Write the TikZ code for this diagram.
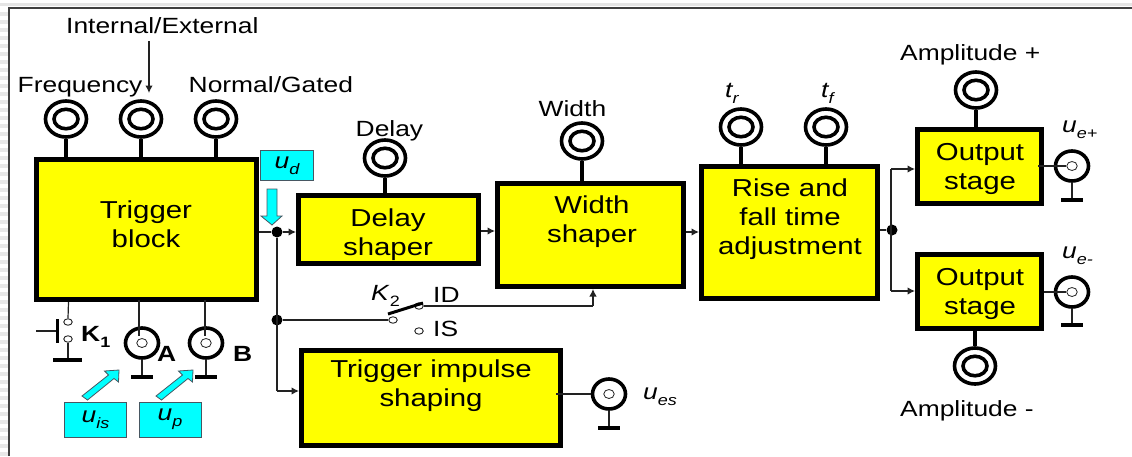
\documentclass[tikz,border=0pt]{standalone}
\usepackage{fontspec}
\setmainfont[FakeStretch=1.2]{Liberation Sans}
\usetikzlibrary{arrows.meta,shapes.geometric}
\definecolor{blockyellow}{HTML}{FFFF00}
\definecolor{signalcyan}{HTML}{00FFFF}
\definecolor{thinline}{HTML}{222222}
\tikzset{
  block/.style={draw=black,fill=blockyellow,line width=5pt,rectangle,inner sep=0pt},
  blocktext/.style={font=\fontsize{24.5}{29}\selectfont,align=center,inner sep=0pt},
  lab/.style={font=\fontsize{22}{26}\selectfont,inner sep=0pt,anchor=base west},
  knobouter/.style={draw=black,fill=white,line width=3.6pt,ellipse,inner sep=0pt,minimum width=41pt,minimum height=36pt},
  knobinner/.style={draw=black,fill=white,line width=3.6pt,ellipse,inner sep=0pt,minimum width=24pt,minimum height=19.5pt},
  stem/.style={draw=black,line width=3.6pt},
  coaxouter/.style={draw=black,fill=white,line width=3.6pt,ellipse,inner sep=0pt,minimum width=33pt,minimum height=30pt},
  coaxinner/.style={draw=thinline,fill=white,line width=.8pt,ellipse,inner sep=0pt,minimum width=10.5pt,minimum height=9pt},
  conn/.style={draw=thinline,line width=1.2pt},
  arr/.style={conn,-{Latex[length=7.5pt,width=7.5pt]}},
  gndbar/.style={draw=black,line width=4.6pt},
  jdot/.style={circle,fill=black,inner sep=0pt,minimum size=11pt},
  swpin/.style={draw=thinline,fill=white,line width=.9pt,ellipse,inner sep=0pt,minimum width=8.5pt,minimum height=6.5pt},
  sigbox/.style={draw=black!70!cyan,fill=signalcyan,line width=1pt,rectangle,inner sep=0pt,font=\fontsize{22}{26}\selectfont},
  sigarrow/.style={draw=black!70!cyan,fill=signalcyan,line width=.8pt,line join=miter}
}
\newcommand{\knobat}[3]{\node[knobouter] (#1) at (#2,#3) {};\node[knobinner] (#1i) at (#1) {};}
\newcommand{\coaxat}[3]{\node[coaxouter] (#1) at (#2,#3) {};\node[coaxinner] (#1i) at (#1) {};}
\newcommand{\sbs}[1]{\raisebox{-.28em}{\fontsize{15}{17}\selectfont #1}}
\begin{document}
\begin{tikzpicture}[x=1pt,y=-1pt]
\useasboundingbox (0,0) rectangle (1132,456);
% window edge
\fill[black!10] (0,3) rectangle (1132,6);
\foreach \yy in {12,20,...,452} {\fill[black!9] (0,\yy) rectangle (8,\yy+4);}
\draw[black!75,line width=1.2pt] (9,456) -- (9,8) -- (1132,8);
% blocks
\node[block,minimum width=220pt,minimum height=140pt] (trig) at (146.5,229.5) {};
\node[block,minimum width=180pt,minimum height=68pt] (delay) at (388.5,229.5) {};
\node[block,minimum width=186pt,minimum height=103pt] (width) at (590.5,235) {};
\node[block,minimum width=176pt,minimum height=132pt] (rise) at (789.5,232.5) {};
\node[block,minimum width=124pt,minimum height=74pt] (outa) at (979.5,166.5) {};
\node[block,minimum width=124pt,minimum height=74pt] (outb) at (979.5,291.5) {};
\node[block,minimum width=259pt,minimum height=95pt] (imp) at (431,398) {};
\node[blocktext] (trigt) at (146,224) {Trigger\\block};
\node[blocktext] (delayt) at (388,235) {Delay\\shaper};
\node[blocktext] (widtht) at (592,222) {Width\\shaper};
\node[blocktext] (riset) at (790,219) {Rise and\\fall time\\adjustment};
\node[blocktext] (outat) at (980,169) {Output\\stage};
\node[blocktext] (outbt) at (980,294) {Output\\stage};
\node[blocktext] (impt) at (431,385.5) {Trigger impulse\\shaping};
% knobs
\knobat{kf}{66}{119}
\knobat{kie}{141}{119}
\knobat{kn}{216}{119}
\knobat{kd}{385}{158}
\knobat{kw}{582}{141}
\knobat{ktr}{741}{127}
\knobat{ktf}{826}{127}
\knobat{kap}{976}{90}
\knobat{kam}{975}{366}
\foreach \k/\b in {kf/trig,kie/trig,kn/trig,kd/delay,kw/width,ktr/rise,ktf/rise,kap/outa} {
  \draw[stem] (\k.south) -- (\k.south |- \b.north);
}
\draw[stem] (kam.north) -- (kam.north |- outb.south);
% coax connectors
\coaxat{ca}{142}{343}
\coaxat{cb}{206}{343}
\coaxat{ces}{609}{394}
\coaxat{cep}{1072}{166}
\coaxat{cem}{1072}{292}
\draw[conn] (139,300) -- (139,336);
\draw[conn] (205,300) -- (205,336);
\draw[conn] (556,394) -- (ces.west);
\draw[conn] (1038,166) -- (cepi.west);
\draw[conn] (outb.east |- cemi) -- (cemi.west);
\foreach \c/\gx/\gy in {ca/142/377,cb/206/377,ces/609/428,cep/1072/200,cem/1072/325} {
  \coordinate (\c g) at (\gx,\gy);
  \draw[conn] (\c.south) -- (\c g);
  \draw[gndbar] ([xshift=-11pt]\c g) -- ([xshift=11pt]\c g);
}
% K1
\node[swpin] (koa) at (68,322) {};
\node[swpin] (kob) at (68,339) {};
\coordinate (kog) at (68,360);
\coordinate (kob1) at (57,331);
\coordinate (kol) at (36,331);
\draw[conn] (68.5,302) -- (koa.north);
\draw[conn] (kob.south) -- (kog);
\draw[gndbar] (53,360) -- (82,360);
\draw[conn] (kol) -- (kob1);
\draw[draw=black,line width=3pt] (57,319) -- (57,343);
% junctions and connectors
\node[jdot] (ja) at (277,232) {};
\node[jdot] (jb) at (277,320) {};
\node[jdot] (jc) at (892,230) {};
\coordinate (timp) at (277,391);
\draw[conn] (trig.east |- ja) -- (ja);
\draw[arr] (ja) -- (ja -| delay.west);
\draw[conn] (ja) -- (timp);
\draw[arr] (timp) -- (timp -| imp.west);
\draw[arr] (delay.east |- 0,231) -- (width.west |- 0,231);
\draw[arr] (width.east |- 0,232) -- (rise.west |- 0,232);
\draw[conn] (rise.east |- jc) -- (jc);
\coordinate (topa) at (891,169);
\coordinate (topb) at (891,291);
\draw[conn] (topa) -- (topb);
\draw[arr] (topa) -- (topa -| outa.west);
\draw[arr] (topb) -- (topb -| outb.west);
% K2 switch
\node[swpin] (swc) at (393,320) {};
\node[swpin] (swid) at (419,306) {};
\node[swpin] (swis) at (419,331) {};
\coordinate (swto) at (593,306);
\draw[conn] (jb) -- (swc);
\draw[draw=black,line width=3pt] (388,314) -- (423,303);
\draw[conn] (swid.east) -- (swto);
\draw[arr] (swto) -- (swto |- width.south);
% internal/external arrow
\coordinate (ieto) at (149,93);
\coordinate (iefrom) at (149,41);
\draw[arr] (iefrom) -- (ieto);
% cyan signals
\node[sigbox,minimum width=53pt,minimum height=30pt] (ud) at (287,165.5) {\textit{u\sbs{d}}};
\node[sigbox,minimum width=62pt,minimum height=35pt] (uis) at (95.5,419.5) {\textit{u\sbs{is}}};
\node[sigbox,minimum width=62pt,minimum height=35pt] (up) at (170,419.5) {\textit{u\sbs{p}}};
\draw[sigarrow] (267,189) -- (277,189) -- (277,216) -- (282,216) -- (272,225) -- (261,216) -- (267,216) -- cycle;
\draw[sigarrow] (119,370) -- (118.5,382) -- (114,378.5) -- (87.5,400) -- (82,396) -- (108.5,375) -- (104.5,371) -- cycle;
\draw[sigarrow] (193,370) -- (192.5,382) -- (188,378.5) -- (161.5,400) -- (156,396) -- (182.5,375) -- (178.5,371) -- cycle;
% labels
\node[lab] (lie) at (66,33.5) {Internal/External};
\node[lab] (lf) at (17.5,92.5) {Frequency};
\node[lab] (ln) at (188.5,92.5) {Normal/Gated};
\node[lab] (ld) at (355.5,136.5) {Delay};
\node[lab] (lw) at (538.5,116.5) {Width};
\node[lab] (ltr) at (725,97) {\textit{t\sbs{r}}};
\node[lab] (ltf) at (821,97) {\textit{t\sbs{f}}};
\node[lab] (lap) at (900,60) {Amplitude +};
\node[lab] (lam) at (900,416) {Amplitude -};
\node[lab] (lep) at (1062,132) {\textit{u\sbs{e+}}};
\node[lab] (lem) at (1062,258) {\textit{u\sbs{e-}}};
\node[lab] (les) at (643,399) {\textit{u\sbs{es}}};
\node[lab,font=\fontsize{22}{26}\selectfont\bfseries] (lk) at (81,341) {K\sbs{1}};
\node[lab,font=\fontsize{22}{26}\selectfont\bfseries] (la) at (157,361) {A};
\node[lab,font=\fontsize{22}{26}\selectfont\bfseries] (lb) at (233,361) {B};
\node[lab] (lkk) at (371,300) {\textit{K}\sbs{2}};
\node[lab] (lid) at (433,302) {ID};
\node[lab] (lis) at (433,336) {IS};
\end{tikzpicture}
\end{document}
